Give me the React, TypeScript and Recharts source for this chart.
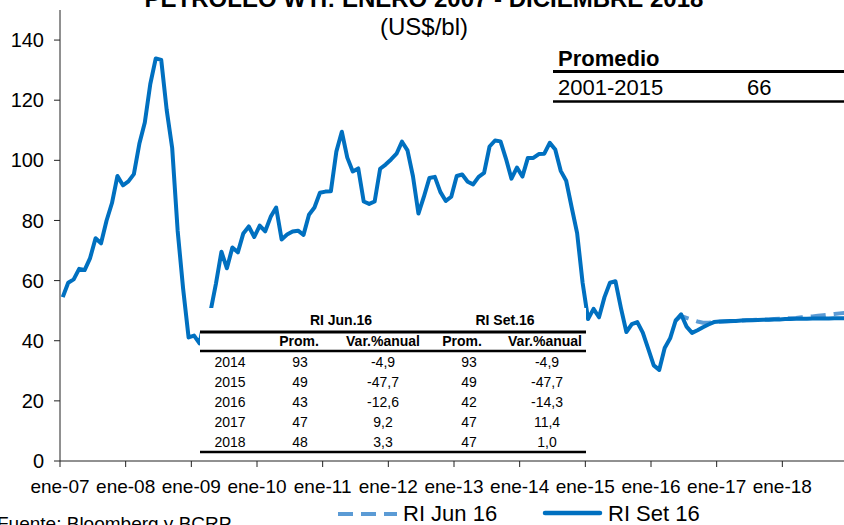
import React from 'react'
import { LineChart, Line, XAxis, YAxis } from 'recharts'

// WTI promedio mensual, ene-07 a jun-16 (US$/bl)
const historico = [
  54.5, 59.3, 60.4, 63.9, 63.5, 67.5, 74.1, 72.4, 79.9, 85.8, 94.8, 91.7,
  93.0, 95.4, 105.5, 112.6, 125.4, 133.9, 133.4, 116.7, 104.1, 76.6, 57.3, 41.1,
  41.7, 39.1, 47.9, 49.7, 59.0, 69.6, 64.1, 71.0, 69.4, 75.7, 78.0, 74.5,
  78.3, 76.4, 81.2, 84.3, 73.7, 75.3, 76.3, 76.6, 75.2, 81.9, 84.3, 89.2,
  89.6, 89.7, 102.9, 109.5, 100.9, 96.3, 97.3, 86.3, 85.5, 86.3, 97.2, 98.6,
  100.3, 102.2, 106.2, 103.3, 94.7, 82.3, 87.9, 94.1, 94.5, 89.5, 86.5, 87.9,
  94.8, 95.3, 92.9, 92.0, 94.5, 95.8, 104.6, 106.6, 106.3, 100.5, 93.9, 97.6,
  94.6, 100.8, 100.8, 102.1, 102.2, 105.8, 103.6, 96.5, 93.2, 84.4, 75.8, 59.3,
  47.2, 50.6, 47.8, 54.5, 59.3, 59.8, 50.9, 42.9, 45.5, 46.2, 42.7, 37.3,
  31.8, 30.3, 37.6, 40.8, 46.7, 48.8,
]

// RI Jun 16: jun-16 a dic-18
const proyJun16 = [
  48.2, 47.6, 47.0, 46.4, 46.0, 46.0, 46.2,
  46.3, 46.4, 46.5, 46.6, 46.7, 46.8, 46.9, 47.0, 47.0, 47.1, 47.2, 47.3,
  47.4, 47.5, 47.6, 47.8, 47.9, 48.1, 48.3, 48.5, 48.7, 48.9, 49.1, 49.3,
]

// RI Set 16: jul-16 a dic-18
const proySet16 = [
  44.7, 42.6, 43.5, 44.5, 45.4, 46.2,
  46.4, 46.5, 46.6, 46.6, 46.7, 46.8, 46.8, 46.9, 47.0, 47.0, 47.1, 47.1,
  47.2, 47.2, 47.3, 47.3, 47.3, 47.4, 47.4, 47.4, 47.4, 47.5, 47.5, 47.5,
]

const etiquetasAnio = [
  'ene-07', 'ene-08', 'ene-09', 'ene-10', 'ene-11', 'ene-12',
  'ene-13', 'ene-14', 'ene-15', 'ene-16', 'ene-17', 'ene-18',
]
const ticksY = [0, 20, 40, 60, 80, 100, 120, 140]

const tablaAnios = ['2014', '2015', '2016', '2017', '2018']
const promJun = ['93', '49', '43', '47', '48']
const varJun = ['-4,9', '-47,7', '-12,6', '9,2', '3,3']
const promSet = ['93', '49', '42', '47', '47']
const varSet = ['-4,9', '-47,7', '-14,3', '11,4', '1,0']

const inicioJun = historico.length - 2 // may-16

const datos = historico.concat(proySet16).map((v, i) => ({
  t: i + 0.5,
  set: v,
  jun: i < inicioJun ? null : i === inicioJun ? historico[i] : proyJun16[i - inicioJun - 1],
}))

const ticksX = etiquetasAnio.map((_, i) => i * 12)

const AZUL = '#0070C0'
const CELESTE = '#5B9BD5'
const FUENTE = '"Liberation Sans", Arial, sans-serif'

const Tabla = () => {
  const filas = [366.5, 387, 407, 427, 447]
  return (
    <g fontSize={14} fill="#000">
      <rect x={200} y={308} width={386} height={148} fill="#fff" />
      <text x={341} y={325} textAnchor="middle" fontWeight="bold">RI Jun.16</text>
      <text x={505} y={325} textAnchor="middle" fontWeight="bold">RI Set.16</text>
      <line x1={200} x2={586} y1={332} y2={332} stroke="#000" strokeWidth={3} />
      <text x={299} y={346} textAnchor="middle" fontWeight="bold">Prom.</text>
      <text x={383} y={346} textAnchor="middle" fontWeight="bold">Var.%anual</text>
      <text x={462} y={346} textAnchor="middle" fontWeight="bold">Prom.</text>
      <text x={545} y={346} textAnchor="middle" fontWeight="bold">Var.%anual</text>
      <line x1={200} x2={586} y1={351} y2={351} stroke="#000" strokeWidth={2.5} />
      {tablaAnios.map((a, k) => (
        <g key={a}>
          <text x={230} y={filas[k]} textAnchor="middle">{a}</text>
          <text x={300} y={filas[k]} textAnchor="middle">{promJun[k]}</text>
          <text x={383} y={filas[k]} textAnchor="middle">{varJun[k]}</text>
          <text x={469} y={filas[k]} textAnchor="middle">{promSet[k]}</text>
          <text x={547} y={filas[k]} textAnchor="middle">{varSet[k]}</text>
        </g>
      ))}
      <line x1={200} x2={586} y1={452} y2={452} stroke="#000" strokeWidth={2.5} />
    </g>
  )
}

const App = () => {
  return (
    <div style={{ position: 'absolute', left: 0, top: 0, width: 844, height: 525, background: '#fff', fontFamily: FUENTE }}>
      <LineChart width={844} height={525} data={datos} margin={{ top: 10, right: -4, bottom: 34, left: 0 }}>
        <XAxis
          dataKey="t"
          type="number"
          domain={[0, 144]}
          ticks={ticksX}
          interval={0}
          tickFormatter={(v: number) => etiquetasAnio[v / 12]}
          height={30}
          tickSize={6}
          tickMargin={13}
          stroke="#222"
          tick={{ fill: '#000', fontSize: 19, fontFamily: FUENTE }}
        />
        <YAxis
          domain={[0, 150]}
          ticks={ticksY}
          interval={0}
          width={60}
          tickSize={6}
          tickMargin={10}
          stroke="#222"
          tick={{ fill: '#000', fontSize: 20, fontFamily: FUENTE }}
        />
        <Line
          type="linear"
          dataKey="jun"
          stroke={CELESTE}
          strokeWidth={4}
          strokeDasharray="15 8"
          dot={false}
          isAnimationActive={false}
          name="RI Jun 16"
        />
        <Line
          type="linear"
          dataKey="set"
          stroke={AZUL}
          strokeWidth={4}
          strokeLinejoin="round"
          dot={false}
          isAnimationActive={false}
          name="RI Set 16"
        />
      </LineChart>
      <svg width={844} height={525} style={{ position: 'absolute', left: 0, top: 0, pointerEvents: 'none' }} fontFamily={FUENTE}>
        <text x={424} y={7} textAnchor="middle" fontSize={24} fontWeight="bold">PETRÓLEO WTI: ENERO 2007 - DICIEMBRE 2018</text>
        <text x={424} y={35} textAnchor="middle" fontSize={24}>(US$/bl)</text>

        <text x={558} y={66} fontSize={22} fontWeight="bold">Promedio</text>
        <line x1={553} x2={844} y1={71.5} y2={71.5} stroke="#000" strokeWidth={3} />
        <text x={558} y={95} fontSize={22}>2001-2015</text>
        <text x={747} y={95} fontSize={22}>66</text>
        <line x1={553} x2={844} y1={101.5} y2={101.5} stroke="#000" strokeWidth={2.5} />

        <Tabla />

        <line x1={338} x2={397} y1={514} y2={514} stroke={CELESTE} strokeWidth={4} strokeDasharray="15 8" />
        <text x={403} y={521} fontSize={22}>RI Jun 16</text>
        <line x1={545} x2={600} y1={513} y2={513} stroke={AZUL} strokeWidth={4.5} strokeLinecap="round" />
        <text x={608} y={521} fontSize={22}>RI Set 16</text>

        <text x={-3} y={530} fontSize={19}>Fuente: Bloomberg y BCRP</text>
      </svg>
    </div>
  )
}

export default App
